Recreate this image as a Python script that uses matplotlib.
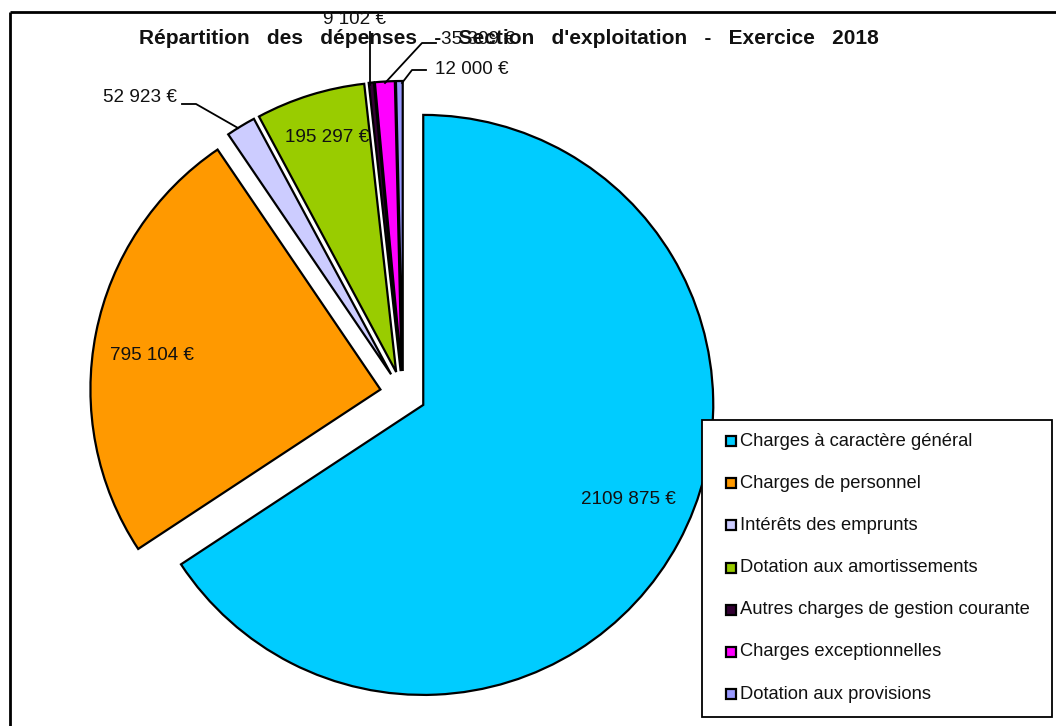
import matplotlib
matplotlib.use("Agg")
import matplotlib.pyplot as plt
from matplotlib.patches import Rectangle

plt.rcParams['font.family'] = ['Liberation Sans', 'DejaVu Sans']

title = "Répartition   des   dépenses   -   Section   d'exploitation   -   Exercice   2018"
categories = [
    "Charges à caractère général",
    "Charges de personnel",
    "Intérêts des emprunts",
    "Dotation aux amortissements",
    "Autres charges de gestion courante",
    "Charges exceptionnelles",
    "Dotation aux provisions",
]
values = [2109875, 795104, 52923, 195297, 9102, 35309, 12000]
colors = ["#00CCFF", "#FF9900", "#CCCCFF", "#99CC00", "#330033", "#FF00FF", "#9999FF"]


def fmt(v):
    return f"{v // 1000} {v % 1000:03d} €"


W, H = 1056, 726
fig = plt.figure(figsize=(W / 100, H / 100), dpi=100)
fig.patch.set_facecolor("white")

# pie geometry in pixels
cx, cy, R = 403, 394, 290
explode_px = 23

ax = fig.add_axes([0, 0, 1, 1])
ax.pie(values, colors=colors, startangle=90, counterclock=False,
       explode=[explode_px / R] * len(values), radius=1, center=(0, 0),
       wedgeprops=dict(edgecolor="black", linewidth=1.6))
ax.set_xlim(-cx / R, (W - cx) / R)
ax.set_ylim(-(H - cy) / R, cy / R)
ax.set_aspect("auto")
ax.axis("off")

# overlay in pixel coordinates
ov = fig.add_axes([0, 0, 1, 1], facecolor="none")
ov.set_xlim(0, W)
ov.set_ylim(H, 0)
ov.axis("off")

# frame (top and left visible)
ov.plot([10, W], [12, 12], color="black", lw=2, solid_capstyle="butt")
ov.plot([10, 10], [12, H], color="black", lw=2, solid_capstyle="butt")

fs = 13.6
# data labels
label_pos = [
    (628, 500),
    (152, 355),
    (140, 98),
    (327, 137),
    (355, 20),
    (478, 40),
    (472, 69),
]

# leader lines
ov.plot([182, 196, 238], [104, 104, 128], color="black", lw=1.3)
ov.plot([370, 370], [85, 32], color="black", lw=1.3)
ov.plot([385, 422, 436], [83, 43, 43], color="black", lw=1.3)
ov.plot([402, 412, 426], [83, 70, 70], color="black", lw=1.3)

ov.text(509, 39, title, fontsize=15.0, fontweight="bold", ha="center", va="center",
        color="#111111")

for v, (x, y) in zip(values, label_pos):
    ov.text(x, y, fmt(v), fontsize=fs, ha="center", va="center", color="#111111")

# legend box
lx0, ly0, lx1, ly1 = 702, 420, 1052, 717
ov.add_patch(Rectangle((lx0, ly0), lx1 - lx0, ly1 - ly0, fill=True,
                       facecolor="white", edgecolor="black", lw=1.3))
row0, step = 441, 42.2
for i, (cat, col) in enumerate(zip(categories, colors)):
    y = row0 + i * step
    ov.add_patch(Rectangle((726, y - 5), 10, 10, facecolor=col,
                           edgecolor="black", lw=1.6))
    ov.text(740, y, cat, fontsize=13.2, ha="left", va="center", color="#111111")

fig.savefig("out.png", dpi=100)
